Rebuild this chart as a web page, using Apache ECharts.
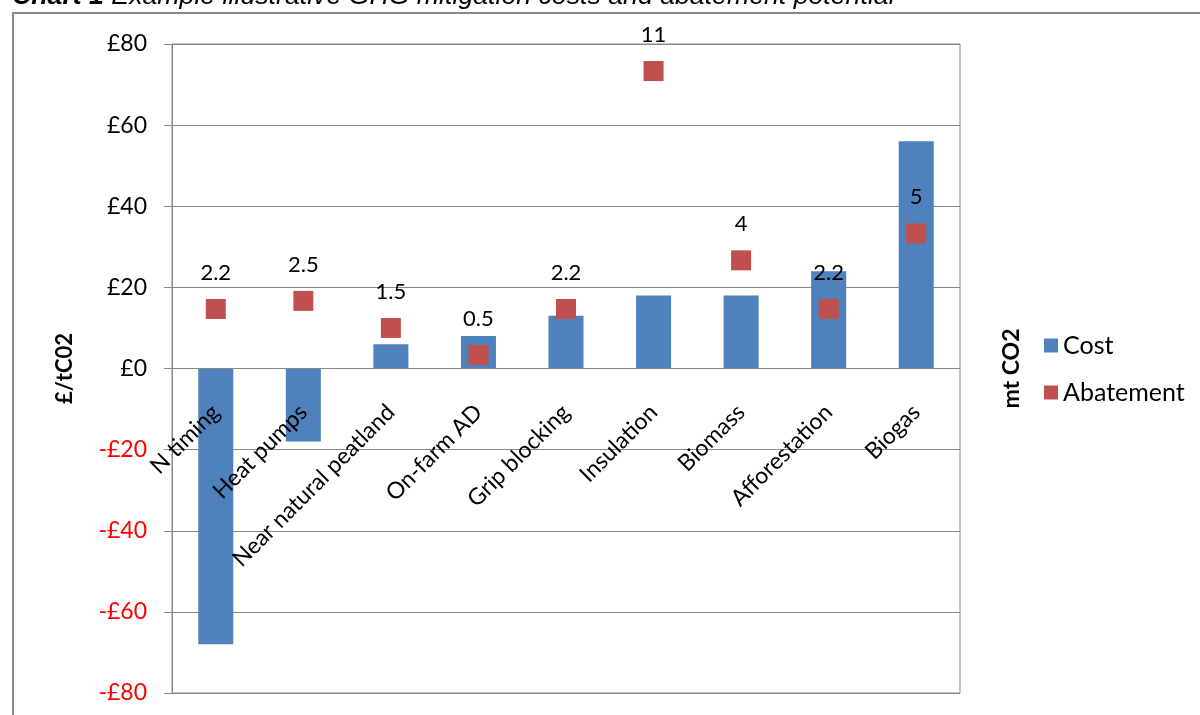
<!DOCTYPE html>
<html><head><meta charset="utf-8">
<script src="https://cdn.jsdelivr.net/npm/echarts@6/dist/echarts.min.js"></script>
<style>html,body{margin:0;padding:0;background:#fff}#c{width:1200px;height:715px}</style>
</head><body><div id="c"></div>
<script>
const categories = ['N timing','Heat pumps','Near natural peatland','On-farm AD','Grip blocking','Insulation','Biomass','Afforestation','Biogas'];
const costValues = [-68, -18, 6, 8, 13, 18, 18, 24, 56];
const abatementValues = [2.2, 2.5, 1.5, 0.5, 2.2, 11, 4, 2.2, 5];
const costTicks = [-80, -60, -40, -20, 0, 20, 40, 60, 80];

const FONT = 'Lato, "Open Sans", sans-serif';
const chart = echarts.init(document.getElementById('c'), null, {renderer: 'canvas'});
const option = {
  animation: false,
  graphic: [
    {type: 'rect', shape: {x: 13, y: 13, width: 1200, height: 720}, style: {fill: 'none', stroke: '#888', lineWidth: 2}},
    {type: 'text', x: 12, y: 10, style: {
      text: '{b|Chart 1} Example illustrative GHG mitigation costs and abatement potential',
      fontFamily: 'Liberation Sans, Arial, sans-serif', fontStyle: 'italic', fontSize: 26.7, fill: '#000',
      verticalAlign: 'bottom',
      rich: {b: {fontWeight: 'bold', fontStyle: 'italic', fontSize: 26.7, fontFamily: 'Liberation Sans, Arial, sans-serif'}}
    }}
  ],
  grid: {left: 172, right: 240, top: 44, bottom: 22, show: true, borderColor: '#888', borderWidth: 1, outerBoundsMode: 'none', containLabel: false},
  legend: {
    orient: 'vertical', left: 1039, top: 328, itemWidth: 14, itemHeight: 14, itemGap: 22,
    textStyle: {fontFamily: FONT, fontSize: 25, color: '#000'},
    data: [{name: 'Cost', icon: 'rect'}, {name: 'Abatement', icon: 'rect'}]
  },
  xAxis: {
    type: 'category', data: categories, z: 10, position: 'bottom', offset: 0,
    axisLine: {onZero: false, lineStyle: {color: '#888'}},
    axisTick: {length: 7, lineStyle: {color: '#888'}},
    axisLabel: {rotate: 45, interval: 0, fontFamily: FONT, fontSize: 23, color: '#000', margin: 40}
  },
  yAxis: [
    {
      type: 'value', min: -80, max: 80, interval: 20,
      name: '£/tC02', nameLocation: 'middle', nameGap: 96,
      nameTextStyle: {fontFamily: FONT, fontSize: 22, fontWeight: 'bold', color: '#000'},
      axisLine: {show: true, lineStyle: {color: '#888'}},
      axisTick: {show: true, length: 8, lineStyle: {color: '#888'}},
      splitLine: {lineStyle: {color: '#888'}},
      axisLabel: {fontFamily: FONT, fontSize: 23, margin: 25,
        formatter: v => costTicks.includes(v) ? (v < 0 ? '-£' + (-v) : '£' + v) : '',
        color: v => (Number(v) < 0 ? '#ff0000' : '#000')}
    },
    {
      type: 'value', min: -12, max: 12, interval: 4,
      name: 'mt CO2', nameLocation: 'middle', nameGap: 40,
      nameTextStyle: {fontFamily: FONT, fontSize: 23, fontWeight: 'bold', color: '#000'},
      axisLine: {show: false}, axisTick: {show: false}, axisLabel: {show: false}, splitLine: {show: false}
    }
  ],
  series: [
    {name: 'Cost', type: 'bar', data: costValues, barWidth: '40%', itemStyle: {color: '#4F81BD'}, z: 2},
    {name: 'Abatement', type: 'scatter', yAxisIndex: 1, data: abatementValues, symbol: 'rect', symbolSize: 20,
      itemStyle: {color: '#C0504D', opacity: 1}, z: 3,
      label: {show: true, position: 'top', distance: 15, fontFamily: FONT, fontSize: 22, color: '#000'}}
  ]
};
chart.setOption(option);
// move the category axis onto the zero line of the cost scale
const zeroPx = chart.convertToPixel({yAxisIndex: 0}, 0);
const bottomPx = chart.convertToPixel({yAxisIndex: 0}, costTicks[0]);
chart.setOption({xAxis: {offset: zeroPx - bottomPx}});
</script></body></html>
